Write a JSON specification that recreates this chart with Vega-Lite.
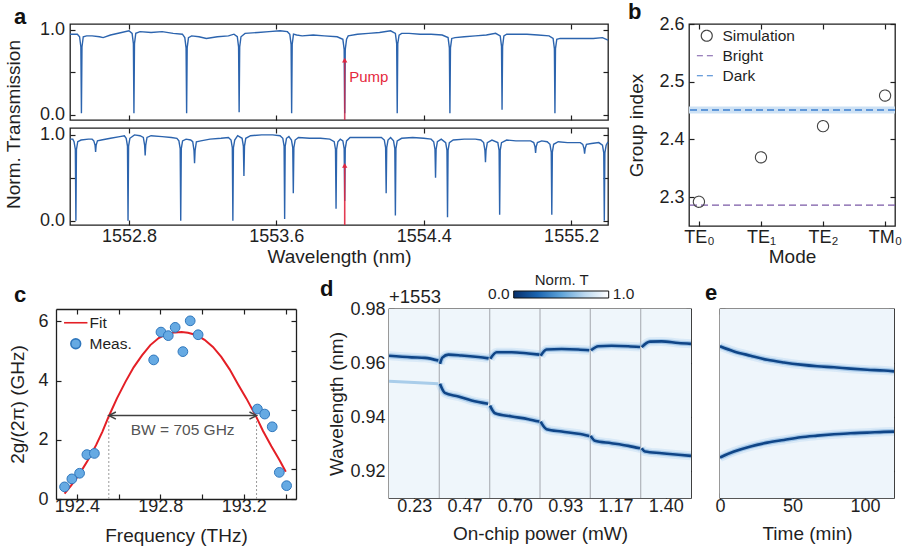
{
  "$schema": "https://vega.github.io/schema/vega-lite/v6.json",
  "background": "white",
  "padding": {"left": 3, "top": 0, "right": 2, "bottom": 2},
  "config": {
    "font": "Liberation Sans",
    "view": {"stroke": "#1f1f1f", "strokeWidth": 1.3},
    "axis": {
      "domain": false, "grid": false, "tickSize": -5, "tickWidth": 1.2, "tickColor": "#1f1f1f",
      "labelPadding": 10, "labelFontSize": 18, "labelColor": "#1f1f1f",
      "titleFontSize": 19, "titleFontWeight": "normal", "titleColor": "#1f1f1f",
      "labelFlush": false, "labelOverlap": false, "minExtent": 0,
      "domainColor": "#1f1f1f", "domainWidth": 1.3
    },
    "legend": {"labelFontSize": 15.5, "labelColor": "#1f1f1f", "padding": 0, "titleFontWeight": "normal", "titleColor": "#1f1f1f", "labelOverlap": false},
    "title": {"fontSize": 22, "fontWeight": "bold", "anchor": "start", "frame": "bounds", "color": "#111111", "offset": 0},
    "point": {"opacity": 1}
  },
  "datasets": {
    "trTop": [
      {"w":1552.48,"t":0.95},{"w":1552.50,"t":0.95},{"w":1552.52,"t":0.95},
      {"w":1552.532,"t":0.92},{"w":1552.539,"t":0.80},{"w":1552.542,"t":0.02},{"w":1552.545,"t":0.80},{"w":1552.552,"t":0.92},
      {"w":1552.57,"t":0.93},{"w":1552.60,"t":0.93},{"w":1552.64,"t":0.92},{"w":1552.66,"t":0.91},{"w":1552.70,"t":0.94},{"w":1552.76,"t":0.97},{"w":1552.80,"t":0.99},
      {"w":1552.817,"t":0.96},{"w":1552.824,"t":0.84},{"w":1552.827,"t":0.02},{"w":1552.830,"t":0.84},{"w":1552.837,"t":0.96},
      {"w":1552.86,"t":0.98},{"w":1552.92,"t":0.97},{"w":1552.98,"t":0.98},{"w":1553.04,"t":0.96},{"w":1553.09,"t":0.95},
      {"w":1553.103,"t":0.91},{"w":1553.110,"t":0.79},{"w":1553.113,"t":0.02},{"w":1553.116,"t":0.79},{"w":1553.123,"t":0.91},
      {"w":1553.14,"t":0.93},{"w":1553.18,"t":0.92},{"w":1553.22,"t":0.90},{"w":1553.28,"t":0.92},{"w":1553.34,"t":0.93},{"w":1553.37,"t":0.95},
      {"w":1553.388,"t":0.92},{"w":1553.395,"t":0.80},{"w":1553.398,"t":0.03},{"w":1553.401,"t":0.80},{"w":1553.408,"t":0.92},
      {"w":1553.43,"t":0.96},{"w":1553.50,"t":0.97},{"w":1553.56,"t":0.98},{"w":1553.62,"t":0.99},{"w":1553.66,"t":0.98},
      {"w":1553.673,"t":0.95},{"w":1553.680,"t":0.83},{"w":1553.683,"t":0.02},{"w":1553.686,"t":0.83},{"w":1553.693,"t":0.95},
      {"w":1553.71,"t":0.94},{"w":1553.74,"t":0.93},{"w":1553.80,"t":0.94},{"w":1553.86,"t":0.93},{"w":1553.93,"t":0.92},
      {"w":1553.961,"t":0.89},{"w":1553.968,"t":0.77},{"w":1553.971,"t":0.02},{"w":1553.974,"t":0.77},{"w":1553.981,"t":0.89},
      {"w":1553.99,"t":0.93},{"w":1554.04,"t":0.95},{"w":1554.10,"t":0.96},{"w":1554.16,"t":0.97},{"w":1554.22,"t":0.99},
      {"w":1554.246,"t":0.96},{"w":1554.253,"t":0.84},{"w":1554.256,"t":0.02},{"w":1554.259,"t":0.84},{"w":1554.266,"t":0.94},
      {"w":1554.28,"t":0.96},{"w":1554.32,"t":0.96},{"w":1554.38,"t":0.95},{"w":1554.44,"t":0.95},{"w":1554.50,"t":0.94},
      {"w":1554.532,"t":0.91},{"w":1554.539,"t":0.79},{"w":1554.542,"t":0.02},{"w":1554.545,"t":0.79},{"w":1554.552,"t":0.90},
      {"w":1554.57,"t":0.91},{"w":1554.62,"t":0.92},{"w":1554.68,"t":0.93},{"w":1554.74,"t":0.94},{"w":1554.79,"t":0.96},
      {"w":1554.815,"t":0.93},{"w":1554.822,"t":0.81},{"w":1554.825,"t":0.06},{"w":1554.828,"t":0.81},{"w":1554.835,"t":0.93},
      {"w":1554.85,"t":0.95},{"w":1554.90,"t":0.95},{"w":1554.96,"t":0.95},{"w":1555.02,"t":0.94},{"w":1555.08,"t":0.93},
      {"w":1555.102,"t":0.90},{"w":1555.109,"t":0.78},{"w":1555.112,"t":0.02},{"w":1555.115,"t":0.78},{"w":1555.122,"t":0.89},
      {"w":1555.14,"t":0.90},{"w":1555.20,"t":0.90},{"w":1555.26,"t":0.90},{"w":1555.32,"t":0.90},{"w":1555.37,"t":0.91},{"w":1555.40,"t":0.88}
    ],
    "trBottom": [
      {"w":1552.48,"t":0.95},{"w":1552.495,"t":0.95},
      {"w":1552.502,"t":0.92},{"w":1552.509,"t":0.83},{"w":1552.512,"t":0.00},{"w":1552.515,"t":0.83},{"w":1552.522,"t":0.92},
      {"w":1552.54,"t":0.94},{"w":1552.58,"t":0.95},{"w":1552.600,"t":0.95},
      {"w":1552.609,"t":0.93},{"w":1552.616,"t":0.88},{"w":1552.619,"t":0.80},{"w":1552.622,"t":0.88},{"w":1552.629,"t":0.93},
      {"w":1552.65,"t":0.94},{"w":1552.70,"t":0.96},{"w":1552.75,"t":0.98},{"w":1552.775,"t":0.99},
      {"w":1552.785,"t":0.96},{"w":1552.792,"t":0.87},{"w":1552.795,"t":0.00},{"w":1552.798,"t":0.87},{"w":1552.805,"t":0.96},
      {"w":1552.83,"t":1.00},{"w":1552.86,"t":0.99},
      {"w":1552.878,"t":0.97},{"w":1552.885,"t":0.88},{"w":1552.888,"t":0.76},{"w":1552.891,"t":0.88},{"w":1552.898,"t":0.97},
      {"w":1552.92,"t":0.99},{"w":1552.98,"t":0.98},{"w":1553.03,"t":0.97},{"w":1553.06,"t":0.96},
      {"w":1553.071,"t":0.93},{"w":1553.078,"t":0.84},{"w":1553.081,"t":0.00},{"w":1553.084,"t":0.84},{"w":1553.091,"t":0.93},
      {"w":1553.11,"t":0.95},{"w":1553.135,"t":0.94},
      {"w":1553.146,"t":0.92},{"w":1553.153,"t":0.82},{"w":1553.156,"t":0.67},{"w":1553.159,"t":0.82},{"w":1553.166,"t":0.92},
      {"w":1553.19,"t":0.93},{"w":1553.24,"t":0.95},{"w":1553.30,"t":0.96},{"w":1553.34,"t":0.97},
      {"w":1553.354,"t":0.94},{"w":1553.361,"t":0.85},{"w":1553.364,"t":0.00},{"w":1553.367,"t":0.85},{"w":1553.374,"t":0.94},
      {"w":1553.39,"t":0.99},
      {"w":1553.414,"t":0.96},{"w":1553.421,"t":0.87},{"w":1553.424,"t":0.52},{"w":1553.427,"t":0.87},{"w":1553.434,"t":0.96},
      {"w":1553.46,"t":0.99},{"w":1553.52,"t":1.00},{"w":1553.58,"t":1.00},{"w":1553.62,"t":0.99},
      {"w":1553.635,"t":0.96},{"w":1553.642,"t":0.87},{"w":1553.645,"t":0.02},{"w":1553.648,"t":0.87},{"w":1553.655,"t":0.96},
      {"w":1553.668,"t":0.98},
      {"w":1553.682,"t":0.94},{"w":1553.689,"t":0.85},{"w":1553.692,"t":0.32},{"w":1553.695,"t":0.85},{"w":1553.702,"t":0.94},
      {"w":1553.72,"t":0.97},{"w":1553.78,"t":0.96},{"w":1553.84,"t":0.96},{"w":1553.89,"t":0.95},
      {"w":1553.914,"t":0.92},{"w":1553.921,"t":0.83},{"w":1553.924,"t":0.14},{"w":1553.927,"t":0.83},{"w":1553.934,"t":0.92},
      {"w":1553.947,"t":0.95},
      {"w":1553.961,"t":0.93},{"w":1553.968,"t":0.84},{"w":1553.971,"t":0.23},{"w":1553.974,"t":0.84},{"w":1553.981,"t":0.93},
      {"w":1554.00,"t":0.97},{"w":1554.06,"t":0.97},{"w":1554.12,"t":0.97},{"w":1554.17,"t":0.97},
      {"w":1554.186,"t":0.94},{"w":1554.193,"t":0.85},{"w":1554.196,"t":0.32},{"w":1554.199,"t":0.85},{"w":1554.206,"t":0.94},
      {"w":1554.22,"t":0.97},
      {"w":1554.236,"t":0.93},{"w":1554.243,"t":0.84},{"w":1554.246,"t":0.06},{"w":1554.249,"t":0.84},{"w":1554.256,"t":0.93},
      {"w":1554.28,"t":0.96},{"w":1554.34,"t":0.97},{"w":1554.40,"t":0.96},{"w":1554.44,"t":0.95},
      {"w":1554.454,"t":0.92},{"w":1554.461,"t":0.83},{"w":1554.464,"t":0.50},{"w":1554.467,"t":0.83},{"w":1554.474,"t":0.92},
      {"w":1554.495,"t":0.95},
      {"w":1554.519,"t":0.91},{"w":1554.526,"t":0.82},{"w":1554.529,"t":0.04},{"w":1554.532,"t":0.82},{"w":1554.539,"t":0.91},
      {"w":1554.56,"t":0.94},{"w":1554.62,"t":0.95},{"w":1554.68,"t":0.95},{"w":1554.71,"t":0.94},
      {"w":1554.725,"t":0.91},{"w":1554.732,"t":0.82},{"w":1554.735,"t":0.68},{"w":1554.738,"t":0.82},{"w":1554.745,"t":0.91},
      {"w":1554.77,"t":0.94},
      {"w":1554.802,"t":0.91},{"w":1554.809,"t":0.82},{"w":1554.812,"t":0.07},{"w":1554.815,"t":0.82},{"w":1554.822,"t":0.91},
      {"w":1554.85,"t":0.94},{"w":1554.90,"t":0.93},{"w":1554.95,"t":0.93},{"w":1554.98,"t":0.93},
      {"w":1554.997,"t":0.91},{"w":1555.004,"t":0.86},{"w":1555.007,"t":0.79},{"w":1555.010,"t":0.86},{"w":1555.017,"t":0.91},
      {"w":1555.04,"t":0.93},{"w":1555.07,"t":0.92},
      {"w":1555.085,"t":0.89},{"w":1555.092,"t":0.80},{"w":1555.095,"t":0.07},{"w":1555.098,"t":0.80},{"w":1555.105,"t":0.89},
      {"w":1555.13,"t":0.92},{"w":1555.18,"t":0.91},{"w":1555.22,"t":0.91},{"w":1555.25,"t":0.91},
      {"w":1555.263,"t":0.89},{"w":1555.270,"t":0.84},{"w":1555.273,"t":0.78},{"w":1555.276,"t":0.84},{"w":1555.283,"t":0.89},
      {"w":1555.31,"t":0.90},{"w":1555.35,"t":0.91},
      {"w":1555.370,"t":0.88},{"w":1555.377,"t":0.79},{"w":1555.380,"t":0.00},{"w":1555.383,"t":0.79},{"w":1555.390,"t":0.88},
      {"w":1555.40,"t":0.92}
    ],
    "groupIndex": [
      {"m":0,"g":2.292,"series":"Simulation"},
      {"m":1,"g":2.369,"series":"Simulation"},
      {"m":2,"g":2.423,"series":"Simulation"},
      {"m":3,"g":2.476,"series":"Simulation"}
    ],
    "coupling": [
      {"f":192.341,"v":0.41,"series":"Meas."},{"f":192.376,"v":0.68,"series":"Meas."},{"f":192.413,"v":0.87,"series":"Meas."},
      {"f":192.448,"v":1.50,"series":"Meas."},{"f":192.484,"v":1.54,"series":"Meas."},{"f":192.768,"v":4.70,"series":"Meas."},
      {"f":192.803,"v":5.64,"series":"Meas."},{"f":192.838,"v":5.52,"series":"Meas."},{"f":192.871,"v":5.80,"series":"Meas."},
      {"f":192.908,"v":4.98,"series":"Meas."},{"f":192.943,"v":6.02,"series":"Meas."},{"f":192.981,"v":5.55,"series":"Meas."},
      {"f":193.265,"v":3.04,"series":"Meas."},{"f":193.300,"v":2.87,"series":"Meas."},{"f":193.336,"v":2.44,"series":"Meas."},
      {"f":193.370,"v":0.90,"series":"Meas."},{"f":193.405,"v":0.45,"series":"Meas."}
    ],
    "fit": [
      {"f":192.341,"v":0.18},{"f":192.372,"v":0.45},{"f":192.412,"v":0.84},{"f":192.452,"v":1.30},{"f":192.492,"v":1.82},
      {"f":192.522,"v":2.27},{"f":192.552,"v":2.78},{"f":192.592,"v":3.40},{"f":192.632,"v":3.95},{"f":192.672,"v":4.45},
      {"f":192.712,"v":4.85},{"f":192.752,"v":5.20},{"f":192.792,"v":5.44},{"f":192.832,"v":5.58},{"f":192.872,"v":5.63},
      {"f":192.902,"v":5.64},{"f":192.932,"v":5.62},{"f":192.972,"v":5.54},{"f":193.012,"v":5.38},{"f":193.052,"v":5.14},
      {"f":193.092,"v":4.80},{"f":193.132,"v":4.38},{"f":193.172,"v":3.88},{"f":193.212,"v":3.40},{"f":193.258,"v":2.80},
      {"f":193.292,"v":2.30},{"f":193.332,"v":1.78},{"f":193.372,"v":1.30},{"f":193.401,"v":0.92}
    ],
    "sweep": [
      {"s":0,"w":0.9627,"branch":"U0","T":0.1},{"s":0.45,"w":0.9621,"branch":"U0","T":0.1},{"s":0.715,"w":0.9619,"branch":"U0","T":0.1},{"s":0.98,"w":0.9609,"branch":"U0","T":0.1},
      {"s":1.013,"w":0.9597,"branch":"U1","T":0.1},{"s":1.06,"w":0.9620,"branch":"U1","T":0.1},{"s":1.18,"w":0.9631,"branch":"U1","T":0.1},{"s":1.44,"w":0.9628,"branch":"U1","T":0.1},{"s":1.775,"w":0.9622,"branch":"U1","T":0.1},{"s":1.98,"w":0.9617,"branch":"U1","T":0.1},
      {"s":2.013,"w":0.9616,"branch":"U2","T":0.1},{"s":2.14,"w":0.9640,"branch":"U2","T":0.1},{"s":2.437,"w":0.9640,"branch":"U2","T":0.1},{"s":2.768,"w":0.9635,"branch":"U2","T":0.1},{"s":2.987,"w":0.9631,"branch":"U2","T":0.1},
      {"s":3.013,"w":0.9627,"branch":"U3","T":0.1},{"s":3.13,"w":0.9650,"branch":"U3","T":0.1},{"s":3.43,"w":0.9652,"branch":"U3","T":0.1},{"s":3.76,"w":0.9650,"branch":"U3","T":0.1},{"s":3.98,"w":0.9647,"branch":"U3","T":0.1},
      {"s":4.013,"w":0.9647,"branch":"U4","T":0.1},{"s":4.16,"w":0.9662,"branch":"U4","T":0.1},{"s":4.42,"w":0.9664,"branch":"U4","T":0.1},{"s":4.755,"w":0.9662,"branch":"U4","T":0.1},{"s":4.987,"w":0.9659,"branch":"U4","T":0.1},
      {"s":5.02,"w":0.9659,"branch":"U5","T":0.1},{"s":5.185,"w":0.9679,"branch":"U5","T":0.1},{"s":5.417,"w":0.9680,"branch":"U5","T":0.1},{"s":5.75,"w":0.9674,"branch":"U5","T":0.1},{"s":6.0,"w":0.9671,"branch":"U5","T":0.1},
      {"s":0,"w":0.9532,"branch":"L0","T":0.72},{"s":0.5,"w":0.9528,"branch":"L0","T":0.72},{"s":0.98,"w":0.9523,"branch":"L0","T":0.72},
      {"s":1.013,"w":0.9523,"branch":"L1","T":0.1},{"s":1.11,"w":0.9489,"branch":"L1","T":0.1},{"s":1.38,"w":0.9476,"branch":"L1","T":0.1},{"s":1.64,"w":0.9461,"branch":"L1","T":0.1},{"s":1.97,"w":0.9449,"branch":"L1","T":0.1},
      {"s":2.007,"w":0.9442,"branch":"L2","T":0.1},{"s":2.106,"w":0.9414,"branch":"L2","T":0.1},{"s":2.437,"w":0.9402,"branch":"L2","T":0.1},{"s":2.768,"w":0.9392,"branch":"L2","T":0.1},{"s":2.987,"w":0.9383,"branch":"L2","T":0.1},
      {"s":3.013,"w":0.9383,"branch":"L3","T":0.1},{"s":3.13,"w":0.9355,"branch":"L3","T":0.1},{"s":3.43,"w":0.9346,"branch":"L3","T":0.1},{"s":3.76,"w":0.9338,"branch":"L3","T":0.1},{"s":3.98,"w":0.9330,"branch":"L3","T":0.1},
      {"s":4.007,"w":0.9330,"branch":"L4","T":0.1},{"s":4.09,"w":0.9312,"branch":"L4","T":0.1},{"s":4.42,"w":0.9303,"branch":"L4","T":0.1},{"s":4.755,"w":0.9293,"branch":"L4","T":0.1},{"s":4.987,"w":0.9284,"branch":"L4","T":0.1},
      {"s":5.02,"w":0.9284,"branch":"L5","T":0.1},{"s":5.086,"w":0.9272,"branch":"L5","T":0.1},{"s":5.417,"w":0.9266,"branch":"L5","T":0.1},{"s":5.75,"w":0.9260,"branch":"L5","T":0.1},{"s":6.0,"w":0.9256,"branch":"L5","T":0.1}
    ],
    "drift": [
      {"m":0,"w":0.9662,"branch":"upper"},{"m":9.7,"w":0.9643,"branch":"upper"},{"m":21.1,"w":0.9627,"branch":"upper"},{"m":32.6,"w":0.9612,"branch":"upper"},
      {"m":44.1,"w":0.9602,"branch":"upper"},{"m":55.6,"w":0.9594,"branch":"upper"},{"m":67.1,"w":0.9588,"branch":"upper"},{"m":78.6,"w":0.9584,"branch":"upper"},
      {"m":90.1,"w":0.9579,"branch":"upper"},{"m":101.5,"w":0.9575,"branch":"upper"},{"m":113,"w":0.9572,"branch":"upper"},{"m":120,"w":0.9569,"branch":"upper"},
      {"m":0,"w":0.9250,"branch":"lower"},{"m":9.7,"w":0.9272,"branch":"lower"},{"m":21.1,"w":0.9291,"branch":"lower"},{"m":32.6,"w":0.9305,"branch":"lower"},
      {"m":44.1,"w":0.9315,"branch":"lower"},{"m":55.6,"w":0.9325,"branch":"lower"},{"m":67.1,"w":0.9331,"branch":"lower"},{"m":78.6,"w":0.9336,"branch":"lower"},
      {"m":90.1,"w":0.9340,"branch":"lower"},{"m":101.5,"w":0.9342,"branch":"lower"},{"m":113,"w":0.9345,"branch":"lower"},{"m":120,"w":0.9346,"branch":"lower"}
    ]
  },
  "vconcat": [
    {
      "hconcat": [
        {
          "vconcat": [
            {
              "width": 538, "height": 96,
              "title": {"text": "a", "dx": 10, "offset": -8},
              "layer": [
                {"layer": [
                  {"data": {"name": "trTop"}, "mark": {"type": "line", "color": "#2c64ae", "strokeWidth": 1.4},
                   "encoding": {
                     "x": {"field": "w", "type": "quantitative", "scale": {"domain": [1552.48, 1555.4], "nice": false, "zero": false},
                           "axis": {"values": [1552.8, 1553.6, 1554.4, 1555.2], "labels": false, "title": null}},
                     "y": {"field": "t", "type": "quantitative", "scale": {"domain": [-0.06, 1.07], "nice": false, "zero": false},
                           "axis": {"values": [0, 0.5, 1], "labelExpr": "datum.value == 0.5 ? '' : format(datum.value, '.1f')", "labelPadding": 10.5,
                                    "title": "Norm. Transmission", "titleX": -47, "titleY": 100, "titleBaseline": "bottom"}}
                   }},
                  {"data": {"values": [{"w": 1553.971, "t": -0.06, "t2": 0.625}]}, "mark": {"type": "rule", "color": "#c8284a", "opacity": 0.85, "strokeWidth": 1.6},
                   "encoding": {"x": {"field": "w", "type": "quantitative"}, "y": {"field": "t", "type": "quantitative"}, "y2": {"field": "t2"}}},
                  {"data": {"values": [{"w": 1553.971, "t": 0.645}]}, "mark": {"type": "point", "shape": "triangle-up", "filled": true, "color": "#e0263f", "size": 28},
                   "encoding": {"x": {"field": "w", "type": "quantitative"}, "y": {"field": "t", "type": "quantitative"}}},
                  {"data": {"values": [{"w": 1553.995, "t": 0.45, "label": "Pump"}]}, "mark": {"type": "text", "align": "left", "baseline": "middle", "fontSize": 15, "color": "#e5283d"},
                   "encoding": {"x": {"field": "w", "type": "quantitative"}, "y": {"field": "t", "type": "quantitative"}, "text": {"field": "label"}}}
                ]},
                {"data": {"name": "trTop"}, "mark": {"type": "point", "opacity": 0},
                 "encoding": {
                   "x": {"field": "w", "type": "quantitative", "axis": {"orient": "top", "values": [1552.8, 1553.6, 1554.4, 1555.2], "labels": false, "title": null}},
                   "y": {"field": "t", "type": "quantitative", "axis": {"orient": "right", "values": [0, 0.5, 1], "labels": false, "title": null}}
                 }}
              ],
              "resolve": {"axis": {"x": "independent", "y": "independent"}}
            },
            {
              "width": 538, "height": 97,
              "layer": [
                {"layer": [
                  {"data": {"name": "trBottom"}, "mark": {"type": "line", "color": "#2c64ae", "strokeWidth": 1.4},
                   "encoding": {
                     "x": {"field": "w", "type": "quantitative", "scale": {"domain": [1552.48, 1555.4], "nice": false, "zero": false},
                           "axis": {"values": [1552.8, 1553.6, 1554.4, 1555.2], "format": ".1f", "labelPadding": 7, "title": "Wavelength (nm)", "titlePadding": 2}},
                     "y": {"field": "t", "type": "quantitative", "scale": {"domain": [-0.05, 1.08], "nice": false, "zero": false},
                           "axis": {"values": [0, 0.5, 1], "labelExpr": "datum.value == 0.5 ? '' : format(datum.value, '.1f')", "labelPadding": 10.5, "title": null}}
                   }},
                  {"data": {"values": [{"w": 1553.971, "t": -0.05, "t2": 0.625}]}, "mark": {"type": "rule", "color": "#e0263f", "opacity": 0.9, "strokeWidth": 1.6},
                   "encoding": {"x": {"field": "w", "type": "quantitative"}, "y": {"field": "t", "type": "quantitative"}, "y2": {"field": "t2"}}},
                  {"data": {"values": [{"w": 1553.971, "t": 0.645}]}, "mark": {"type": "point", "shape": "triangle-up", "filled": true, "color": "#e0263f", "size": 28},
                   "encoding": {"x": {"field": "w", "type": "quantitative"}, "y": {"field": "t", "type": "quantitative"}}}
                ]},
                {"data": {"name": "trBottom"}, "mark": {"type": "point", "opacity": 0},
                 "encoding": {
                   "x": {"field": "w", "type": "quantitative", "axis": {"orient": "top", "values": [1552.8, 1553.6, 1554.4, 1555.2], "labels": false, "title": null}},
                   "y": {"field": "t", "type": "quantitative", "axis": {"orient": "right", "values": [0, 0.5, 1], "labels": false, "title": null}}
                 }}
              ],
              "resolve": {"axis": {"x": "independent", "y": "independent"}}
            }
          ],
          "spacing": 8,
          "bounds": "flush"
        },
        {
          "width": 206, "height": 202,
          "title": {"text": "b", "offset": -9},
          "layer": [
            {"layer": [
              {"data": {"values": [{"g": 2.445, "g2": 2.457}]}, "mark": {"type": "rect", "color": "#cde1f4"},
               "encoding": {"y": {"field": "g", "type": "quantitative"}, "y2": {"field": "g2"}}},
              {"data": {"values": [{"g": 2.286}]}, "mark": {"type": "rule", "color": "#7b59a6", "strokeDash": [7, 4], "strokeWidth": 1.3},
               "encoding": {"y": {"field": "g", "type": "quantitative"}}},
              {"data": {"values": [{"g": 2.451}]}, "mark": {"type": "rule", "color": "#3b7fcf", "strokeDash": [7, 4], "strokeWidth": 1.3},
               "encoding": {"y": {"field": "g", "type": "quantitative"}}},
              {"data": {"name": "groupIndex"}, "mark": {"type": "point", "filled": false, "size": 125, "strokeWidth": 1.1},
               "encoding": {
                 "x": {"field": "m", "type": "quantitative", "scale": {"domain": [-0.16, 3.16], "nice": false, "zero": false},
                       "axis": {"values": [0, 1, 2, 3], "labelExpr": "['TE₀','TE₁','TE₂','TM₀'][datum.value]", "labelPadding": 7, "title": "Mode", "titlePadding": 1}},
                 "y": {"field": "g", "type": "quantitative", "scale": {"domain": [2.25, 2.6], "nice": false, "zero": false},
                       "axis": {"values": [2.3, 2.4, 2.5, 2.6], "format": ".1f", "title": "Group index", "titlePadding": 12}},
                 "color": {"field": "series", "type": "nominal",
                           "scale": {"domain": ["Simulation", "Bright", "Dark"], "range": ["#444444", "#7b59a6", "#3b7fcf"]}},
                 "strokeDash": {"field": "series", "type": "nominal",
                                "scale": {"domain": ["Simulation", "Bright", "Dark"], "range": [[1, 0], [6, 4], [6, 4]]}},
                 "shape": {"field": "series", "type": "nominal",
                           "scale": {"domain": ["Simulation", "Bright", "Dark"], "range": ["circle", "M-1.8,0L1.8,0", "M-1.8,0L1.8,0"]},
                           "legend": {"orient": "none", "legendX": 10, "legendY": 4, "title": null, "symbolSize": 120, "rowPadding": 3, "labelOffset": 8, "symbolStrokeWidth": 1.2}}
               }}
            ]},
            {"data": {"name": "groupIndex"}, "mark": {"type": "point", "opacity": 0},
             "encoding": {
               "x": {"field": "m", "type": "quantitative", "axis": {"orient": "top", "values": [0, 1, 2, 3], "labels": false, "title": null}},
               "y": {"field": "g", "type": "quantitative", "axis": {"orient": "right", "values": [2.3, 2.4, 2.5, 2.6], "labels": false, "title": null}}
             }}
          ],
          "resolve": {"axis": {"x": "independent", "y": "independent"}}
        }
      ],
      "spacing": 15,
      "resolve": {"scale": {"color": "independent", "shape": "independent", "strokeDash": "independent", "fill": "independent", "stroke": "independent"},
                  "legend": {"color": "independent", "shape": "independent", "strokeDash": "independent", "fill": "independent", "stroke": "independent"}}
    },
    {
      "hconcat": [
        {
          "width": 226, "height": 190,
          "view": {"stroke": null},
          "title": {"text": "c", "dx": 5, "offset": 1},
          "layer": [
            {"layer": [
              {"data": {"values": [{"f": 192.553, "v": 0, "v2": 2.82}, {"f": 193.261, "v": 0, "v2": 2.82}]},
               "mark": {"type": "rule", "color": "#9a9a9a", "strokeDash": [2, 2], "strokeWidth": 1},
               "encoding": {
                 "x": {"field": "f", "type": "quantitative", "scale": {"domain": [192.3, 193.45], "range": [-14, 226], "nice": false, "zero": false},
                       "axis": {"values": [192.4, 192.6, 192.8, 193.0, 193.2, 193.4],
                                "labelExpr": "indexof(['192.4','192.8','193.2'], format(datum.value, '.1f')) >= 0 ? format(datum.value, '.1f') : ''",
                                "domain": true, "labelPadding": 3, "title": "Frequency (THz)", "titlePadding": 11}},
                 "y": {"field": "v", "type": "quantitative", "scale": {"domain": [0, 6.42], "nice": false, "zero": false},
                       "axis": {"values": [0, 1, 2, 3, 4, 5, 6], "domain": true, "offset": 14, "labelPadding": 13, "title": "2g/(2π) (GHz)", "titlePadding": 10}},
                 "y2": {"field": "v2"}
               }},
              {"data": {"name": "fit"}, "mark": {"type": "line", "color": "#e41f26", "strokeWidth": 2},
               "encoding": {"x": {"field": "f", "type": "quantitative"}, "y": {"field": "v", "type": "quantitative"}}},
              {"data": {"values": [{"f": 192.556, "f2": 193.258, "v": 2.82}]}, "mark": {"type": "rule", "color": "#404040", "strokeWidth": 1.5},
               "encoding": {"x": {"field": "f", "type": "quantitative"}, "x2": {"field": "f2"}, "y": {"field": "v", "type": "quantitative"}}},
              {"data": {"values": [{"f": 192.570, "v": 2.82}]}, "mark": {"type": "point", "shape": "M1,-1L-1,0L1,1", "filled": false, "color": "#404040", "strokeWidth": 1.5, "size": 50},
               "encoding": {"x": {"field": "f", "type": "quantitative"}, "y": {"field": "v", "type": "quantitative"}}},
              {"data": {"values": [{"f": 193.244, "v": 2.82}]}, "mark": {"type": "point", "shape": "M-1,-1L1,0L-1,1", "filled": false, "color": "#404040", "strokeWidth": 1.5, "size": 50},
               "encoding": {"x": {"field": "f", "type": "quantitative"}, "y": {"field": "v", "type": "quantitative"}}},
              {"data": {"values": [{"f": 192.907, "v": 2.33, "label": "BW = 705 GHz"}]}, "mark": {"type": "text", "fontSize": 15.5, "color": "#555555", "baseline": "middle"},
               "encoding": {"x": {"field": "f", "type": "quantitative"}, "y": {"field": "v", "type": "quantitative"}, "text": {"field": "label"}}},
              {"data": {"name": "coupling"}, "mark": {"type": "point", "filled": true, "strokeWidth": 1, "size": 95},
               "encoding": {
                 "x": {"field": "f", "type": "quantitative"}, "y": {"field": "v", "type": "quantitative"},
                 "fill": {"field": "series", "type": "nominal", "scale": {"domain": ["Fit", "Meas."], "range": ["#e41f26", "#66aae3"]}},
                 "stroke": {"field": "series", "type": "nominal", "scale": {"domain": ["Fit", "Meas."], "range": ["#e41f26", "#2f77bd"]}},
                 "shape": {"field": "series", "type": "nominal",
                           "scale": {"domain": ["Fit", "Meas."], "range": ["M-2.4,0L2.4,0", "circle"]},
                           "legend": {"orient": "none", "legendX": -2, "legendY": 6, "title": null, "symbolSize": 95, "rowPadding": 3, "labelOffset": 6, "symbolStrokeWidth": 1.6}}
               }}
            ]},
            {"data": {"name": "coupling"}, "mark": {"type": "point", "opacity": 0},
             "encoding": {
               "x": {"field": "f", "type": "quantitative", "axis": {"orient": "top", "values": [192.4, 192.6, 192.8, 193.0, 193.2, 193.4], "labels": false, "title": null, "domain": true}},
               "y": {"field": "v", "type": "quantitative", "axis": {"orient": "right", "values": [0, 1, 2, 3, 4, 5, 6], "labels": false, "title": null, "domain": true}}
             }}
          ],
          "resolve": {"axis": {"x": "independent", "y": "independent"}}
        },
        {
          "width": 302, "height": 189,
          "title": {"text": "d", "dx": -8, "offset": -28},
          "layer": [
            {"layer": [
              {"data": {"values": [{"s": 0, "s2": 6, "w": 0.91, "w2": 0.98, "T": 0.94}]}, "mark": {"type": "rect"},
               "encoding": {
                 "x": {"field": "s", "type": "quantitative", "scale": {"domain": [0, 6], "nice": false, "zero": false},
                       "axis": {"values": [0.5, 1.5, 2.5, 3.5, 4.5, 5.5], "labelExpr": "['0.23','0.47','0.70','0.93','1.17','1.40'][floor(datum.value)]",
                                "labelPadding": 4, "title": "On-chip power (mW)", "titlePadding": 9}},
                 "x2": {"field": "s2"},
                 "y": {"field": "w", "type": "quantitative", "scale": {"domain": [0.91, 0.98], "nice": false, "zero": false},
                       "axis": {"values": [0.92, 0.94, 0.96, 0.98], "format": ".2f", "labelPadding": 9, "title": "Wavelength (nm)", "titlePadding": 3}},
                 "y2": {"field": "w2"},
                 "color": {"field": "T", "type": "quantitative",
                           "scale": {"domain": [0, 0.25, 0.5, 0.75, 1], "range": ["#08306b", "#1a64b0", "#5ea3d8", "#bcd8ef", "#ffffff"], "interpolate": "rgb"},
                           "legend": {"type": "gradient", "orient": "none", "legendX": 124.7, "legendY": -36, "direction": "horizontal", "title": "Norm. T", "titleFontSize": 15,
                                      "titleAnchor": "middle", "titlePadding": 3, "titleOrient": "top", "gradientLength": 95, "gradientThickness": 7,
                                      "gradientStrokeColor": "#111111", "gradientStrokeWidth": 1, "values": [-0.27, 1.27], "labelFontSize": 15.5,
                                      "labelOffset": -11,
                                      "labelExpr": "datum.value < 0.5 ? '0.0' : '1.0'"}}
               }},
              {"data": {"values": [{"s": 1}, {"s": 2}, {"s": 3}, {"s": 4}, {"s": 5}]}, "mark": {"type": "rule", "color": "#b5b9bf", "strokeWidth": 1.3},
               "encoding": {"x": {"field": "s", "type": "quantitative"}}},
              {"data": {"name": "sweep"}, "transform": [{"filter": "datum.T < 0.5"}],
               "mark": {"type": "line", "color": "#a8cdee", "opacity": 0.3, "strokeWidth": 9, "interpolate": "monotone", "clip": true},
               "encoding": {"x": {"field": "s", "type": "quantitative"}, "y": {"field": "w", "type": "quantitative"}, "detail": {"field": "branch"}}},
              {"data": {"name": "sweep"}, "transform": [{"filter": "datum.T < 0.5"}],
               "mark": {"type": "line", "color": "#3f86cc", "opacity": 0.35, "strokeWidth": 5, "interpolate": "monotone", "clip": true},
               "encoding": {"x": {"field": "s", "type": "quantitative"}, "y": {"field": "w", "type": "quantitative"}, "detail": {"field": "branch"}}},
              {"data": {"name": "sweep"}, "transform": [{"filter": "datum.T < 0.5"}],
               "mark": {"type": "line", "color": "#0f4587", "strokeWidth": 2.6, "interpolate": "monotone", "clip": true},
               "encoding": {"x": {"field": "s", "type": "quantitative"}, "y": {"field": "w", "type": "quantitative"}, "detail": {"field": "branch"}}},
              {"data": {"name": "sweep"}, "transform": [{"filter": "datum.T >= 0.5"}],
               "mark": {"type": "line", "color": "#a9cdea", "strokeWidth": 3, "interpolate": "monotone", "clip": true},
               "encoding": {"x": {"field": "s", "type": "quantitative"}, "y": {"field": "w", "type": "quantitative"}, "detail": {"field": "branch"}}},
              {"data": {"values": [{"s": 0, "w": 0.98, "label": "+1553"}]}, "mark": {"type": "text", "align": "left", "baseline": "alphabetic", "dy": -6, "fontSize": 18.5, "color": "#1f1f1f"},
               "encoding": {"x": {"field": "s", "type": "quantitative"}, "y": {"field": "w", "type": "quantitative"}, "text": {"field": "label"}}}
            ]},
            {"data": {"name": "sweep"}, "mark": {"type": "point", "opacity": 0},
             "encoding": {
               "x": {"field": "s", "type": "quantitative", "axis": {"orient": "top", "values": [0.5, 1.5, 2.5, 3.5, 4.5, 5.5], "labels": false, "title": null}},
               "y": {"field": "w", "type": "quantitative", "axis": {"orient": "right", "values": [0.92, 0.94, 0.96, 0.98], "labels": false, "title": null}}
             }}
          ],
          "resolve": {"axis": {"x": "independent", "y": "independent"}}
        },
        {
          "width": 174, "height": 189,
          "title": {"text": "e", "dx": -10, "offset": 3},
          "layer": [
            {"layer": [
              {"data": {"values": [{"m": 0, "m2": 120, "w": 0.91, "w2": 0.98}]}, "mark": {"type": "rect", "color": "#eef5fb"},
               "encoding": {
                 "x": {"field": "m", "type": "quantitative", "scale": {"domain": [0, 120], "nice": false, "zero": false},
                       "axis": {"values": [0, 50, 100], "labelPadding": 4, "title": "Time (min)", "titlePadding": 9}},
                 "x2": {"field": "m2"},
                 "y": {"field": "w", "type": "quantitative", "scale": {"domain": [0.91, 0.98], "nice": false, "zero": false},
                       "axis": {"values": [0.92, 0.94, 0.96, 0.98], "labels": false, "title": null}},
                 "y2": {"field": "w2"}
               }},
              {"data": {"name": "drift"},
               "mark": {"type": "line", "color": "#a8cdee", "opacity": 0.3, "strokeWidth": 9, "interpolate": "monotone", "clip": true},
               "encoding": {"x": {"field": "m", "type": "quantitative"}, "y": {"field": "w", "type": "quantitative"}, "detail": {"field": "branch"}}},
              {"data": {"name": "drift"},
               "mark": {"type": "line", "color": "#3f86cc", "opacity": 0.35, "strokeWidth": 5, "interpolate": "monotone", "clip": true},
               "encoding": {"x": {"field": "m", "type": "quantitative"}, "y": {"field": "w", "type": "quantitative"}, "detail": {"field": "branch"}}},
              {"data": {"name": "drift"},
               "mark": {"type": "line", "color": "#0f4587", "strokeWidth": 2.6, "interpolate": "monotone", "clip": true},
               "encoding": {"x": {"field": "m", "type": "quantitative"}, "y": {"field": "w", "type": "quantitative"}, "detail": {"field": "branch"}}}
            ]},
            {"data": {"name": "drift"}, "mark": {"type": "point", "opacity": 0},
             "encoding": {
               "x": {"field": "m", "type": "quantitative", "axis": {"orient": "top", "values": [0, 50, 100], "labels": false, "title": null}},
               "y": {"field": "w", "type": "quantitative", "axis": {"orient": "right", "values": [0.92, 0.94, 0.96, 0.98], "labels": false, "title": null}}
             }}
          ],
          "resolve": {"axis": {"x": "independent", "y": "independent"}}
        }
      ],
      "spacing": 9,
      "resolve": {"scale": {"color": "independent", "shape": "independent", "strokeDash": "independent", "fill": "independent", "stroke": "independent"},
                  "legend": {"color": "independent", "shape": "independent", "strokeDash": "independent", "fill": "independent", "stroke": "independent"}}
    }
  ],
  "spacing": 5,
  "resolve": {"scale": {"color": "independent", "shape": "independent", "strokeDash": "independent", "fill": "independent", "stroke": "independent"},
              "legend": {"color": "independent", "shape": "independent", "strokeDash": "independent", "fill": "independent", "stroke": "independent"}}
}
